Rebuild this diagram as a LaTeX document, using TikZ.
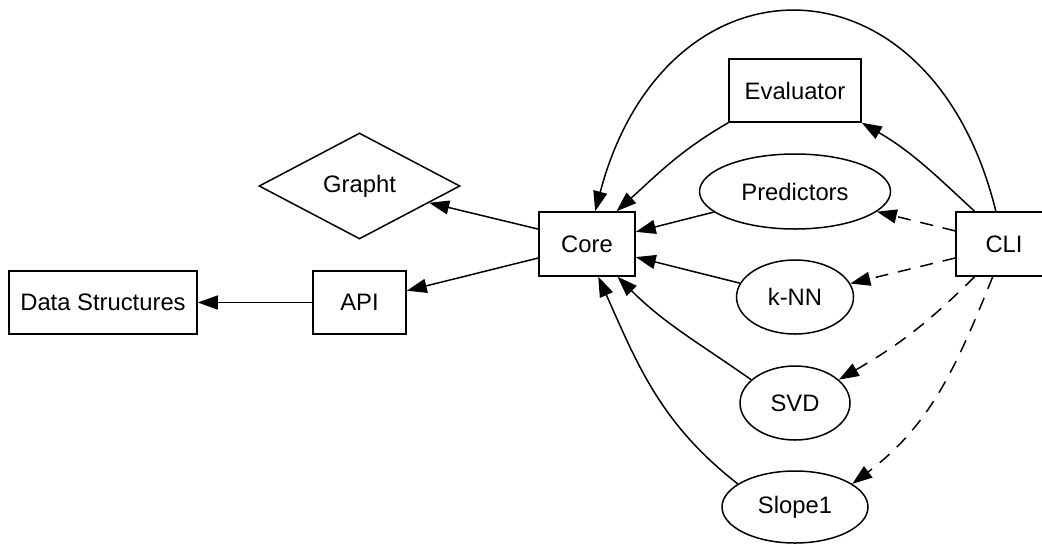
\documentclass[tikz,border=0pt]{standalone}
\usepackage{fontspec}
\setmainfont{Liberation Sans}
\usetikzlibrary{shapes.geometric,arrows.meta}

\begin{document}
\begin{tikzpicture}[x = 0.5pt, y = 0.5pt, font = \fontsize{11.9pt}{14pt}\selectfont]
\tikzstyle{mybox} = [rectangle, draw, line width = 0.75pt, inner sep = 0pt, minimum height = 31.5pt]
\tikzstyle{myellipse} = [ellipse, draw, line width = 0.75pt, inner sep = 0pt, minimum height = 37pt]
\tikzset{myarrow/.style={line width = 0.75pt, -{Triangle[length=10pt,width=7pt]}},
 mydash/.style={myarrow, dash pattern=on 6.5pt off 5pt}}
\useasboundingbox (0,0) rectangle (1042,543);

\node [ mybox, minimum width = 94pt ] (ds) at (103,240.5) {Data Structures};
\node [ mybox, minimum width = 46.5pt ] (api) at (359.5,240.5) {API};
\node [ diamond, draw, line width = 0.75pt, aspect = 2, inner sep = 0pt, minimum width = 100.5pt, minimum height = 53pt ] (graphit) at (359.5,357) {Grapht};
\node [ mybox, minimum width = 48pt, minimum height = 32pt ] (core) at (587,299) {Core};
\node [ mybox, minimum width = 66pt ] (eval) at (795,452.5) {Evaluator};
\node [ myellipse, minimum width = 95.5pt, minimum height = 37.5pt ] (pred) at (795,351.5) {Predictors};
\node [ mybox, minimum width = 48pt, minimum height = 32pt ] (cli) at (1004,299) {CLI};
\node [ myellipse, minimum width = 58.5pt ] (knn) at (795,246) {k-NN};
\node [ myellipse, minimum width = 55pt ] (svd) at (795,140) {SVD};
\node [ myellipse, minimum width = 73pt, minimum height = 36pt ] (slope) at (795,36) {Slope1};

\draw [myarrow] (core.163) -- (graphit);
\draw [myarrow] (core.196) -- (api);
\draw [myarrow] (api) -- (ds);
\draw [myarrow] (eval.south west) to [out = 210, in = 42] (core.48);
\draw [myarrow] (cli.104) .. controls +(-65,265) and +(70,265) .. (core.76);
\draw [myarrow] (cli.132) to [out = 137, in = -30] (eval.south east);
\draw [myarrow] (pred) -- (core.14);
\draw [myarrow] (knn) -- (core.-15);
\draw [myarrow] (svd.152) to [out = 145, in = -45] (core.-47);
\draw [myarrow] (slope.158) to [out = 142, in = -66] (core.-71);
\draw [mydash] (cli.165) -- (pred);
\draw [mydash] (cli.196) -- (knn);
\draw [mydash] (cli.228) to [out = 225, in = 30] (svd.28);
\draw [mydash] (cli.-109) to [out = 248, in = 37] (slope.22);

\end{tikzpicture}
\end{document}
